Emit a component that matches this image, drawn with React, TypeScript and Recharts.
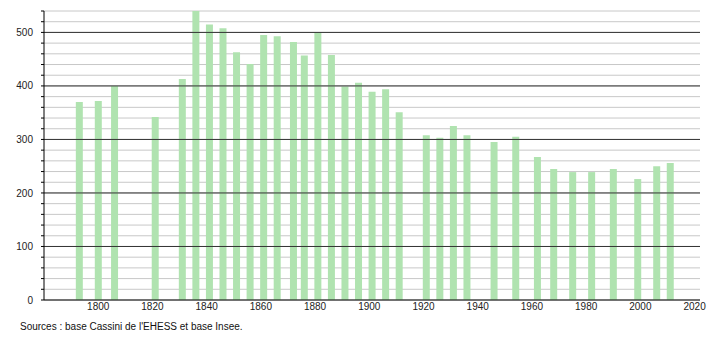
import React from "react";
import { ComposedChart, Bar, XAxis, YAxis, CartesianGrid, ReferenceLine } from "recharts";

const years = [1793, 1800, 1806, 1821, 1831, 1836, 1841, 1846, 1851, 1856, 1861, 1866, 1872, 1876, 1881, 1886, 1891, 1896, 1901, 1906, 1911, 1921, 1926, 1931, 1936, 1946, 1954, 1962, 1968, 1975, 1982, 1990, 1999, 2006, 2011];
const population = [370, 372, 400, 342, 413, 540, 515, 508, 463, 441, 495, 493, 482, 457, 500, 458, 399, 406, 389, 394, 351, 308, 303, 325, 308, 295, 305, 267, 245, 239, 239, 245, 226, 250, 256];
const xTicks = [1800, 1820, 1840, 1860, 1880, 1900, 1920, 1940, 1960, 1980, 2000, 2020];
const yTicks = [0, 20, 40, 60, 80, 100, 120, 140, 160, 180, 200, 220, 240, 260, 280, 300, 320, 340, 360, 380, 400, 420, 440, 460, 480, 500, 520, 540];
const majorY = [100, 200, 300, 400, 500];
const sourceText = "Sources : base Cassini de l'EHESS et base Insee.";

const data = years.map((y, i) => ({ year: y, pop: population[i] }));

const font = "'Liberation Sans', Arial, sans-serif";

export default function App() {
  return (
    <div style={{ position: "absolute", left: 0, top: 0, width: 710, height: 340, background: "#fff", fontFamily: font }}>
      <ComposedChart width={710} height={340} data={data} margin={{ top: 11, right: 10, bottom: 20, left: 0 }}>
        <CartesianGrid vertical={false} horizontal stroke="#c8c8c8" strokeWidth={1} horizontalValues={yTicks} />
        {majorY.map((v) => (
          <ReferenceLine key={v} y={v} stroke="#333" strokeWidth={1} />
        ))}
        <XAxis
          dataKey="year"
          type="number"
          domain={[1780, 2022]}
          ticks={xTicks}
          tickLine={false}
          tickSize={0}
          axisLine={{ stroke: "#000" }}
          tick={{ fontSize: 10, fill: "#222", fontFamily: font }}
          height={20}
          tickMargin={3}
          allowDataOverflow
        />
        <YAxis
          type="number"
          domain={[0, 540]}
          ticks={yTicks}
          interval={0}
          width={44}
          tickSize={3}
          tickMargin={8}
          axisLine={{ stroke: "#000" }}
          tickLine={{ stroke: "#000" }}
          tick={{ fontSize: 10, fill: "#222", fontFamily: font }}
          tickFormatter={(v: number) => (v % 100 === 0 ? String(v) : "")}
          allowDataOverflow
        />
        <Bar dataKey="pop" fill="#b0e3b0" barSize={7} isAnimationActive={false} />
      </ComposedChart>
      <div style={{ position: "absolute", left: 20, top: 321, fontSize: 10, color: "#111", fontFamily: font, whiteSpace: "nowrap" }}>
        {sourceText}
      </div>
    </div>
  );
}
